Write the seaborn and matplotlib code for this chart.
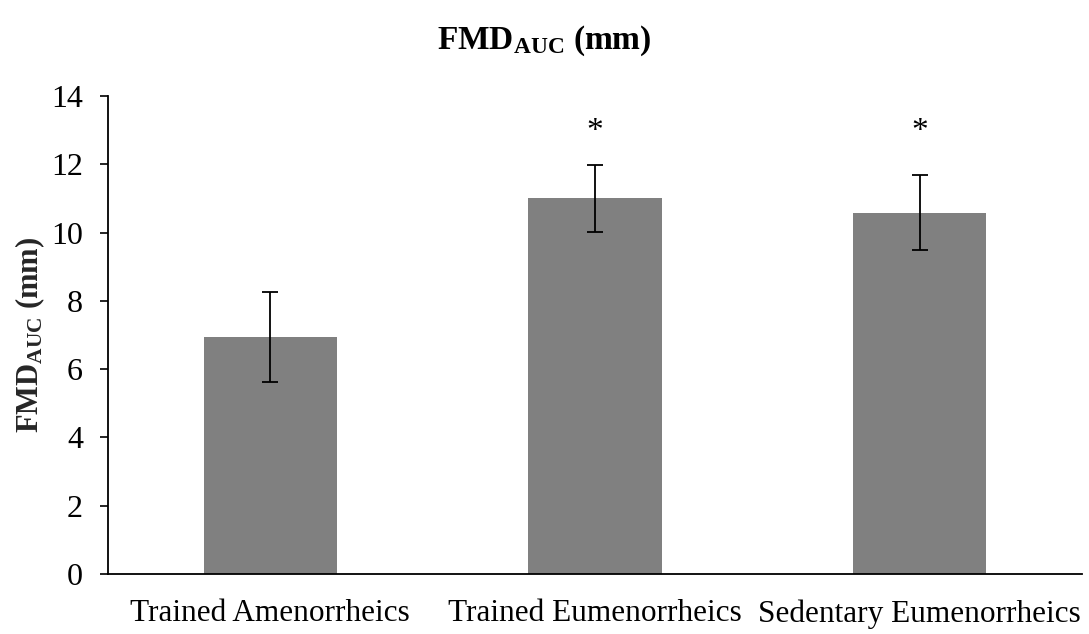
import matplotlib
matplotlib.use("Agg")
import matplotlib.pyplot as plt
import seaborn as sns
import pandas as pd
import numpy as np

categories = ["Trained Amenorrheics", "Trained Eumenorrheics", "Sedentary Eumenorrheics"]
means = [6.93, 11.0, 10.58]
errors = [1.32, 0.97, 1.10]
stars = ["", "*", "*"]
star_heights = [0, 12.95, 12.95]
yticks = [0, 2, 4, 6, 8, 10, 12, 14]

sns.set_theme(style="white")
plt.rcParams['font.family'] = ['Liberation Serif', 'DejaVu Serif']
plt.rcParams['mathtext.fontset'] = 'custom'
plt.rcParams['mathtext.rm'] = 'Liberation Serif'
plt.rcParams['mathtext.bf'] = 'Liberation Serif:bold'
plt.rcParams['text.color'] = 'black'
plt.rcParams['xtick.color'] = 'black'
plt.rcParams['ytick.color'] = 'black'

df = pd.DataFrame({"group": categories, "value": means})

fig = plt.figure(figsize=(10.89, 6.34), dpi=100)
ax = fig.add_axes([0.0992, 0.0946, 0.8944, 0.754])
sns.barplot(data=df, x="group", y="value", color="#808080", saturation=1,
            width=0.41, errorbar=None, ax=ax, order=categories)
for p in ax.patches:
    p.set_edgecolor("none")
ax.errorbar(x=np.arange(len(categories)), y=means, yerr=errors, fmt="none",
            ecolor="black", elinewidth=1.3, capsize=6, capthick=1.3)
for i, (s, h) in enumerate(zip(stars, star_heights)):
    if s:
        ax.text(i, h, s, ha="center", va="center", fontsize=24, color="black")

ax.set_xlim(-0.5, 2.5)
ax.set_ylim(0, 14)
ax.set_yticks(yticks)
ax.set_yticklabels([str(t) for t in yticks], fontsize=23)
ax.tick_params(axis="y", direction="out", length=6, width=1.2, color="black", pad=12, left=True)
ax.tick_params(axis="x", length=0, labelsize=22.5, pad=18)
ax.set_xlabel("")
ax.set_ylabel(r"$\mathbf{FMD_{AUC}}$ (mm)", fontsize=22, fontweight="bold", labelpad=3)
for side in ["top", "right"]:
    ax.spines[side].set_visible(False)
for side in ["left", "bottom"]:
    ax.spines[side].set_color("black")
    ax.spines[side].set_linewidth(1.3)
fig.text(0.5, 0.935, r"$\mathbf{FMD_{AUC}}$ (mm)", ha="center", va="center",
         fontsize=24, fontweight="bold")
fig.savefig("out.png", dpi=100)
